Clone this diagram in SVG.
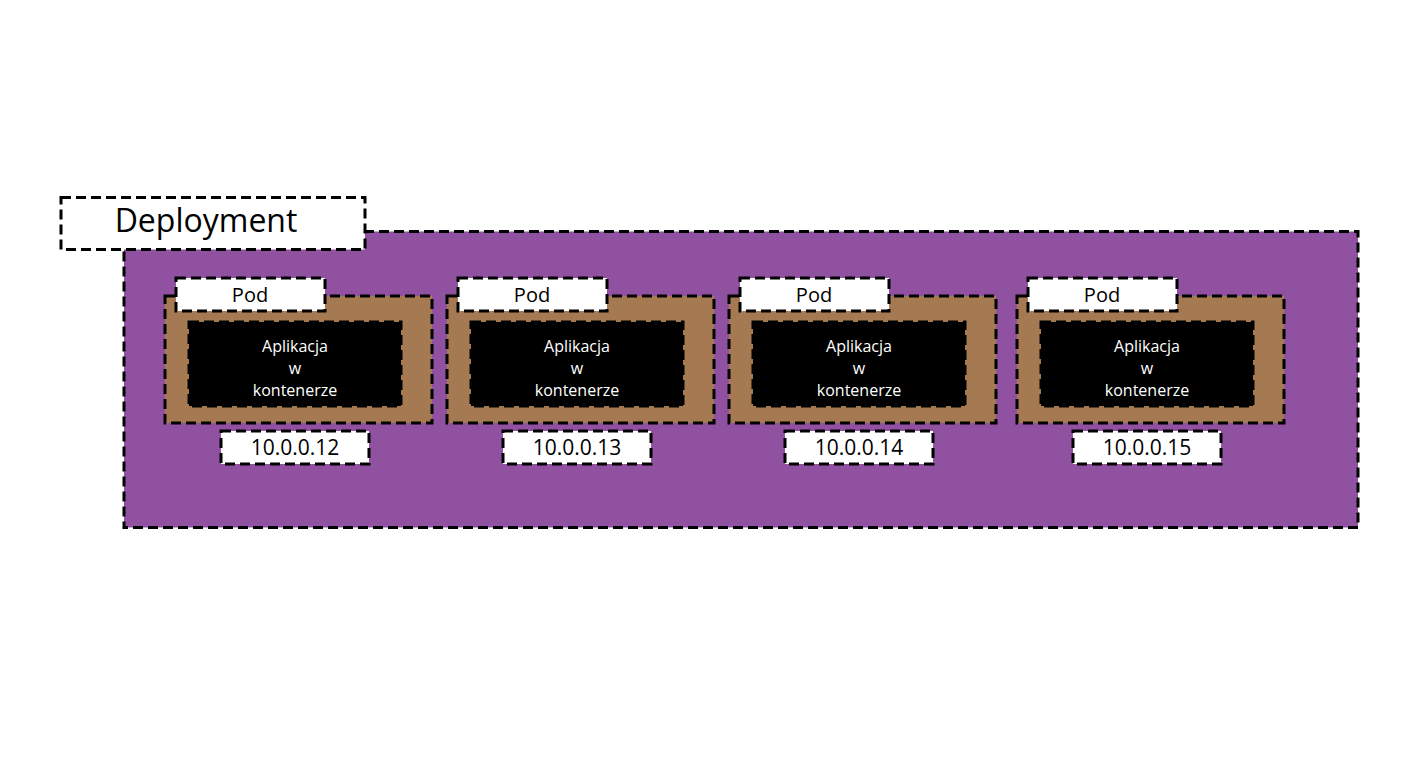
<svg xmlns="http://www.w3.org/2000/svg" width="1428" height="768" viewBox="0 0 1428 768">
<style>
.d{stroke:#000;stroke-width:3;stroke-dasharray:10 5;}
.deploy{fill:#9151a1;}
.pod{fill:#a57a52;}
.app{fill:#000;}
.lbl{fill:#fff;}
text{font-family:"Open Sans","Noto Sans",sans-serif;text-anchor:middle;}
.t1{font-size:32px;fill:#000;}
.t2{font-size:20px;fill:#000;}
.t3{font-size:16px;fill:#fff;}
.t4{font-size:21px;fill:#000;}
</style>
<rect width="1428" height="768" fill="#fff"/>
<g id="deployment">
<rect class="deploy d" x="124" y="231.5" width="1234" height="296"/>
<rect class="lbl d" x="61" y="197.5" width="304" height="52"/>
<text class="t1" x="206" y="232">Deployment</text>
</g>
<g id="pod1" transform="translate(0,0)">
<rect class="pod d" x="165" y="296" width="267" height="127"/>
<rect class="app d" x="189" y="322" width="212" height="84"/>
<rect class="lbl d" x="176" y="278" width="149" height="33"/>
<text class="t2" x="250" y="302">Pod</text>
<text class="t3" x="295" y="352">Aplikacja</text>
<text class="t3" x="295" y="374">w</text>
<text class="t3" x="295" y="396">kontenerze</text>
<rect class="lbl d" x="221" y="431" width="148" height="33"/>
<text class="t4" x="295" y="455">10.0.0.12</text>
</g>
<g id="pod2" transform="translate(282,0)">
<rect class="pod d" x="165" y="296" width="267" height="127"/>
<rect class="app d" x="189" y="322" width="212" height="84"/>
<rect class="lbl d" x="176" y="278" width="149" height="33"/>
<text class="t2" x="250" y="302">Pod</text>
<text class="t3" x="295" y="352">Aplikacja</text>
<text class="t3" x="295" y="374">w</text>
<text class="t3" x="295" y="396">kontenerze</text>
<rect class="lbl d" x="221" y="431" width="148" height="33"/>
<text class="t4" x="295" y="455">10.0.0.13</text>
</g>
<g id="pod3" transform="translate(564,0)">
<rect class="pod d" x="165" y="296" width="267" height="127"/>
<rect class="app d" x="189" y="322" width="212" height="84"/>
<rect class="lbl d" x="176" y="278" width="149" height="33"/>
<text class="t2" x="250" y="302">Pod</text>
<text class="t3" x="295" y="352">Aplikacja</text>
<text class="t3" x="295" y="374">w</text>
<text class="t3" x="295" y="396">kontenerze</text>
<rect class="lbl d" x="221" y="431" width="148" height="33"/>
<text class="t4" x="295" y="455">10.0.0.14</text>
</g>
<g id="pod4" transform="translate(852,0)">
<rect class="pod d" x="165" y="296" width="267" height="127"/>
<rect class="app d" x="189" y="322" width="212" height="84"/>
<rect class="lbl d" x="176" y="278" width="149" height="33"/>
<text class="t2" x="250" y="302">Pod</text>
<text class="t3" x="295" y="352">Aplikacja</text>
<text class="t3" x="295" y="374">w</text>
<text class="t3" x="295" y="396">kontenerze</text>
<rect class="lbl d" x="221" y="431" width="148" height="33"/>
<text class="t4" x="295" y="455">10.0.0.15</text>
</g>
<g id="connectors"></g>
</svg>
